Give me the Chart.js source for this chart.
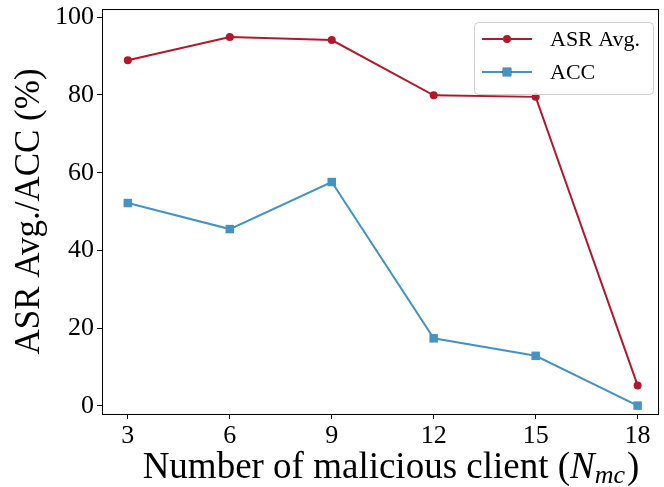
<!DOCTYPE html>
<html>
<head>
<meta charset="utf-8">
<script src="https://cdn.jsdelivr.net/npm/chart.js@4/dist/chart.umd.min.js"></script>
<style>
html,body{margin:0;padding:0;background:#fff;}
canvas{display:block;}
</style>
</head>
<body>
<canvas id="c" width="664" height="487"></canvas>
<script>
const xValues = [3, 6, 9, 12, 15, 18];
const asrAvg = [88.9, 94.9, 94.1, 79.9, 79.5, 5.3];
const accValues = [52.2, 45.5, 57.6, 17.4, 12.9, 0.1];
const xTicks = [3, 6, 9, 12, 15, 18];
const yTicks = [0, 20, 40, 60, 80, 100];
const seriesNames = ['ASR Avg.', 'ACC'];
const xTitleParts = ['Number of malicious client (', 'N', 'mc', ')'];
const yTitle = 'ASR Avg./ACC (%)';

const RED = '#b2182b';
const BLUE = '#4393c3';
const SERIF = '"Liberation Serif", "Times New Roman", serif';

const framePlugin = {
  id: 'frame',
  afterDraw(chart) {
    const ctx = chart.ctx;
    const a = chart.chartArea;
    ctx.save();
    ctx.strokeStyle = '#000';
    ctx.lineWidth = 1;
    ctx.strokeRect(Math.round(a.left) + 0.5, Math.round(a.top) + 0.5,
      Math.round(a.right) - Math.round(a.left), Math.round(a.bottom) - Math.round(a.top));
    ctx.restore();
  }
};

const titlesPlugin = {
  id: 'titles',
  afterDraw(chart) {
    const ctx = chart.ctx;
    const a = chart.chartArea;
    ctx.save();
    ctx.fillStyle = '#000';
    ctx.translate(30, (a.top + a.bottom) / 2);
    ctx.rotate(-Math.PI / 2);
    ctx.font = '35px ' + SERIF;
    ctx.textAlign = 'center';
    ctx.textBaseline = 'middle';
    ctx.fillText(yTitle, 0, 0);
    ctx.restore();

    ctx.save();
    ctx.fillStyle = '#000';
    ctx.textBaseline = 'alphabetic';
    ctx.textAlign = 'left';
    const fN = '37px ' + SERIF;
    const fI = 'italic 37px ' + SERIF;
    const fS = 'italic 26px ' + SERIF;
    ctx.font = fN; const w0 = ctx.measureText(xTitleParts[0]).width;
    ctx.font = fI; const w1 = ctx.measureText(xTitleParts[1]).width;
    ctx.font = fS; const w2 = ctx.measureText(xTitleParts[2]).width;
    ctx.font = fN; const w3 = ctx.measureText(xTitleParts[3]).width;
    const total = w0 + w1 + w2 + w3 + 2;
    let x = 391 - total / 2;
    const base = 478;
    ctx.font = fN; ctx.fillText(xTitleParts[0], x, base); x += w0;
    ctx.font = fI; ctx.fillText(xTitleParts[1], x, base); x += w1;
    ctx.font = fS; ctx.fillText(xTitleParts[2], x, base + 5); x += w2 + 2;
    ctx.font = fN; ctx.fillText(xTitleParts[3], x, base);
    ctx.restore();
  }
};

const legendPlugin = {
  id: 'boxLegend',
  afterDatasetsDraw(chart) {
    const ctx = chart.ctx;
    ctx.save();
    const bx = 474, by = 22, bw = 179, bh = 72, r = 4;
    ctx.globalAlpha = 0.85;
    ctx.fillStyle = '#fff';
    ctx.beginPath();
    ctx.roundRect(bx + 0.5, by + 0.5, bw, bh, r);
    ctx.fill();
    ctx.globalAlpha = 1;
    ctx.strokeStyle = '#d0d0d0';
    ctx.lineWidth = 1;
    ctx.stroke();
    const rows = [39, 72];
    chart.data.datasets.forEach((ds, i) => {
      const y = rows[i];
      ctx.strokeStyle = ds.borderColor;
      ctx.lineWidth = ds.borderWidth;
      ctx.beginPath();
      ctx.moveTo(482, y);
      ctx.lineTo(532, y);
      ctx.stroke();
      Chart.helpers.drawPoint(ctx, {
        pointStyle: ds.pointStyle,
        radius: ds.pointRadius,
        rotation: 0,
        borderWidth: 0
      }, 507, y);
      ctx.fillStyle = ds.borderColor;
      ctx.fill();
      ctx.fillStyle = '#000';
      ctx.font = '22px ' + SERIF;
      ctx.textAlign = 'left';
      ctx.textBaseline = 'middle';
      ctx.fillText(ds.label, 550, y + 1);
    });
    ctx.restore();
  }
};

new Chart(document.getElementById('c'), {
  type: 'line',
  data: {
    datasets: [
      {
        label: seriesNames[0],
        data: xValues.map((x, i) => ({ x: x, y: asrAvg[i] })),
        borderColor: RED,
        backgroundColor: RED,
        borderWidth: 2,
        pointStyle: 'circle',
        pointRadius: 4,
        pointBorderWidth: 0,
        pointBackgroundColor: RED,
        tension: 0
      },
      {
        label: seriesNames[1],
        data: xValues.map((x, i) => ({ x: x, y: accValues[i] })),
        borderColor: BLUE,
        backgroundColor: BLUE,
        borderWidth: 2,
        pointStyle: 'rect',
        pointRadius: 6,
        pointBorderWidth: 0,
        pointBackgroundColor: BLUE,
        tension: 0
      }
    ]
  },
  options: {
    responsive: false,
    devicePixelRatio: 1,
    animation: false,
    layout: { padding: { top: 9, right: 5, left: 0, bottom: 0 } },
    plugins: {
      legend: { display: false },
      tooltip: { enabled: false }
    },
    scales: {
      x: {
        type: 'linear',
        min: 2.24,
        max: 18.6,
        afterBuildTicks(scale) { scale.ticks = xTicks.map(v => ({ value: v })); },
        afterFit(scale) {
          scale.height = 73;
          scale.paddingLeft = 0; scale.paddingRight = 0;
          scale.paddingTop = 0; scale.paddingBottom = 0;
        },
        grid: { drawOnChartArea: false, drawTicks: true, tickLength: 5, color: '#000', lineWidth: 1 },
        border: { display: true, color: '#000', width: 1 },
        ticks: { color: '#000', font: { family: SERIF, size: 26 }, padding: 2, maxRotation: 0, autoSkip: false }
      },
      y: {
        type: 'linear',
        min: -2.06,
        max: 102.1,
        afterBuildTicks(scale) { scale.ticks = yTicks.map(v => ({ value: v })); },
        afterFit(scale) {
          scale.width = 102;
          scale.paddingLeft = 0; scale.paddingRight = 0;
          scale.paddingTop = 0; scale.paddingBottom = 0;
        },
        grid: { drawOnChartArea: false, drawTicks: true, tickLength: 5, color: '#000', lineWidth: 1 },
        border: { display: true, color: '#000', width: 1 },
        ticks: { color: '#000', font: { family: SERIF, size: 26 }, padding: 3, autoSkip: false }
      }
    }
  },
  plugins: [framePlugin, titlesPlugin, legendPlugin]
});
</script>
</body>
</html>
